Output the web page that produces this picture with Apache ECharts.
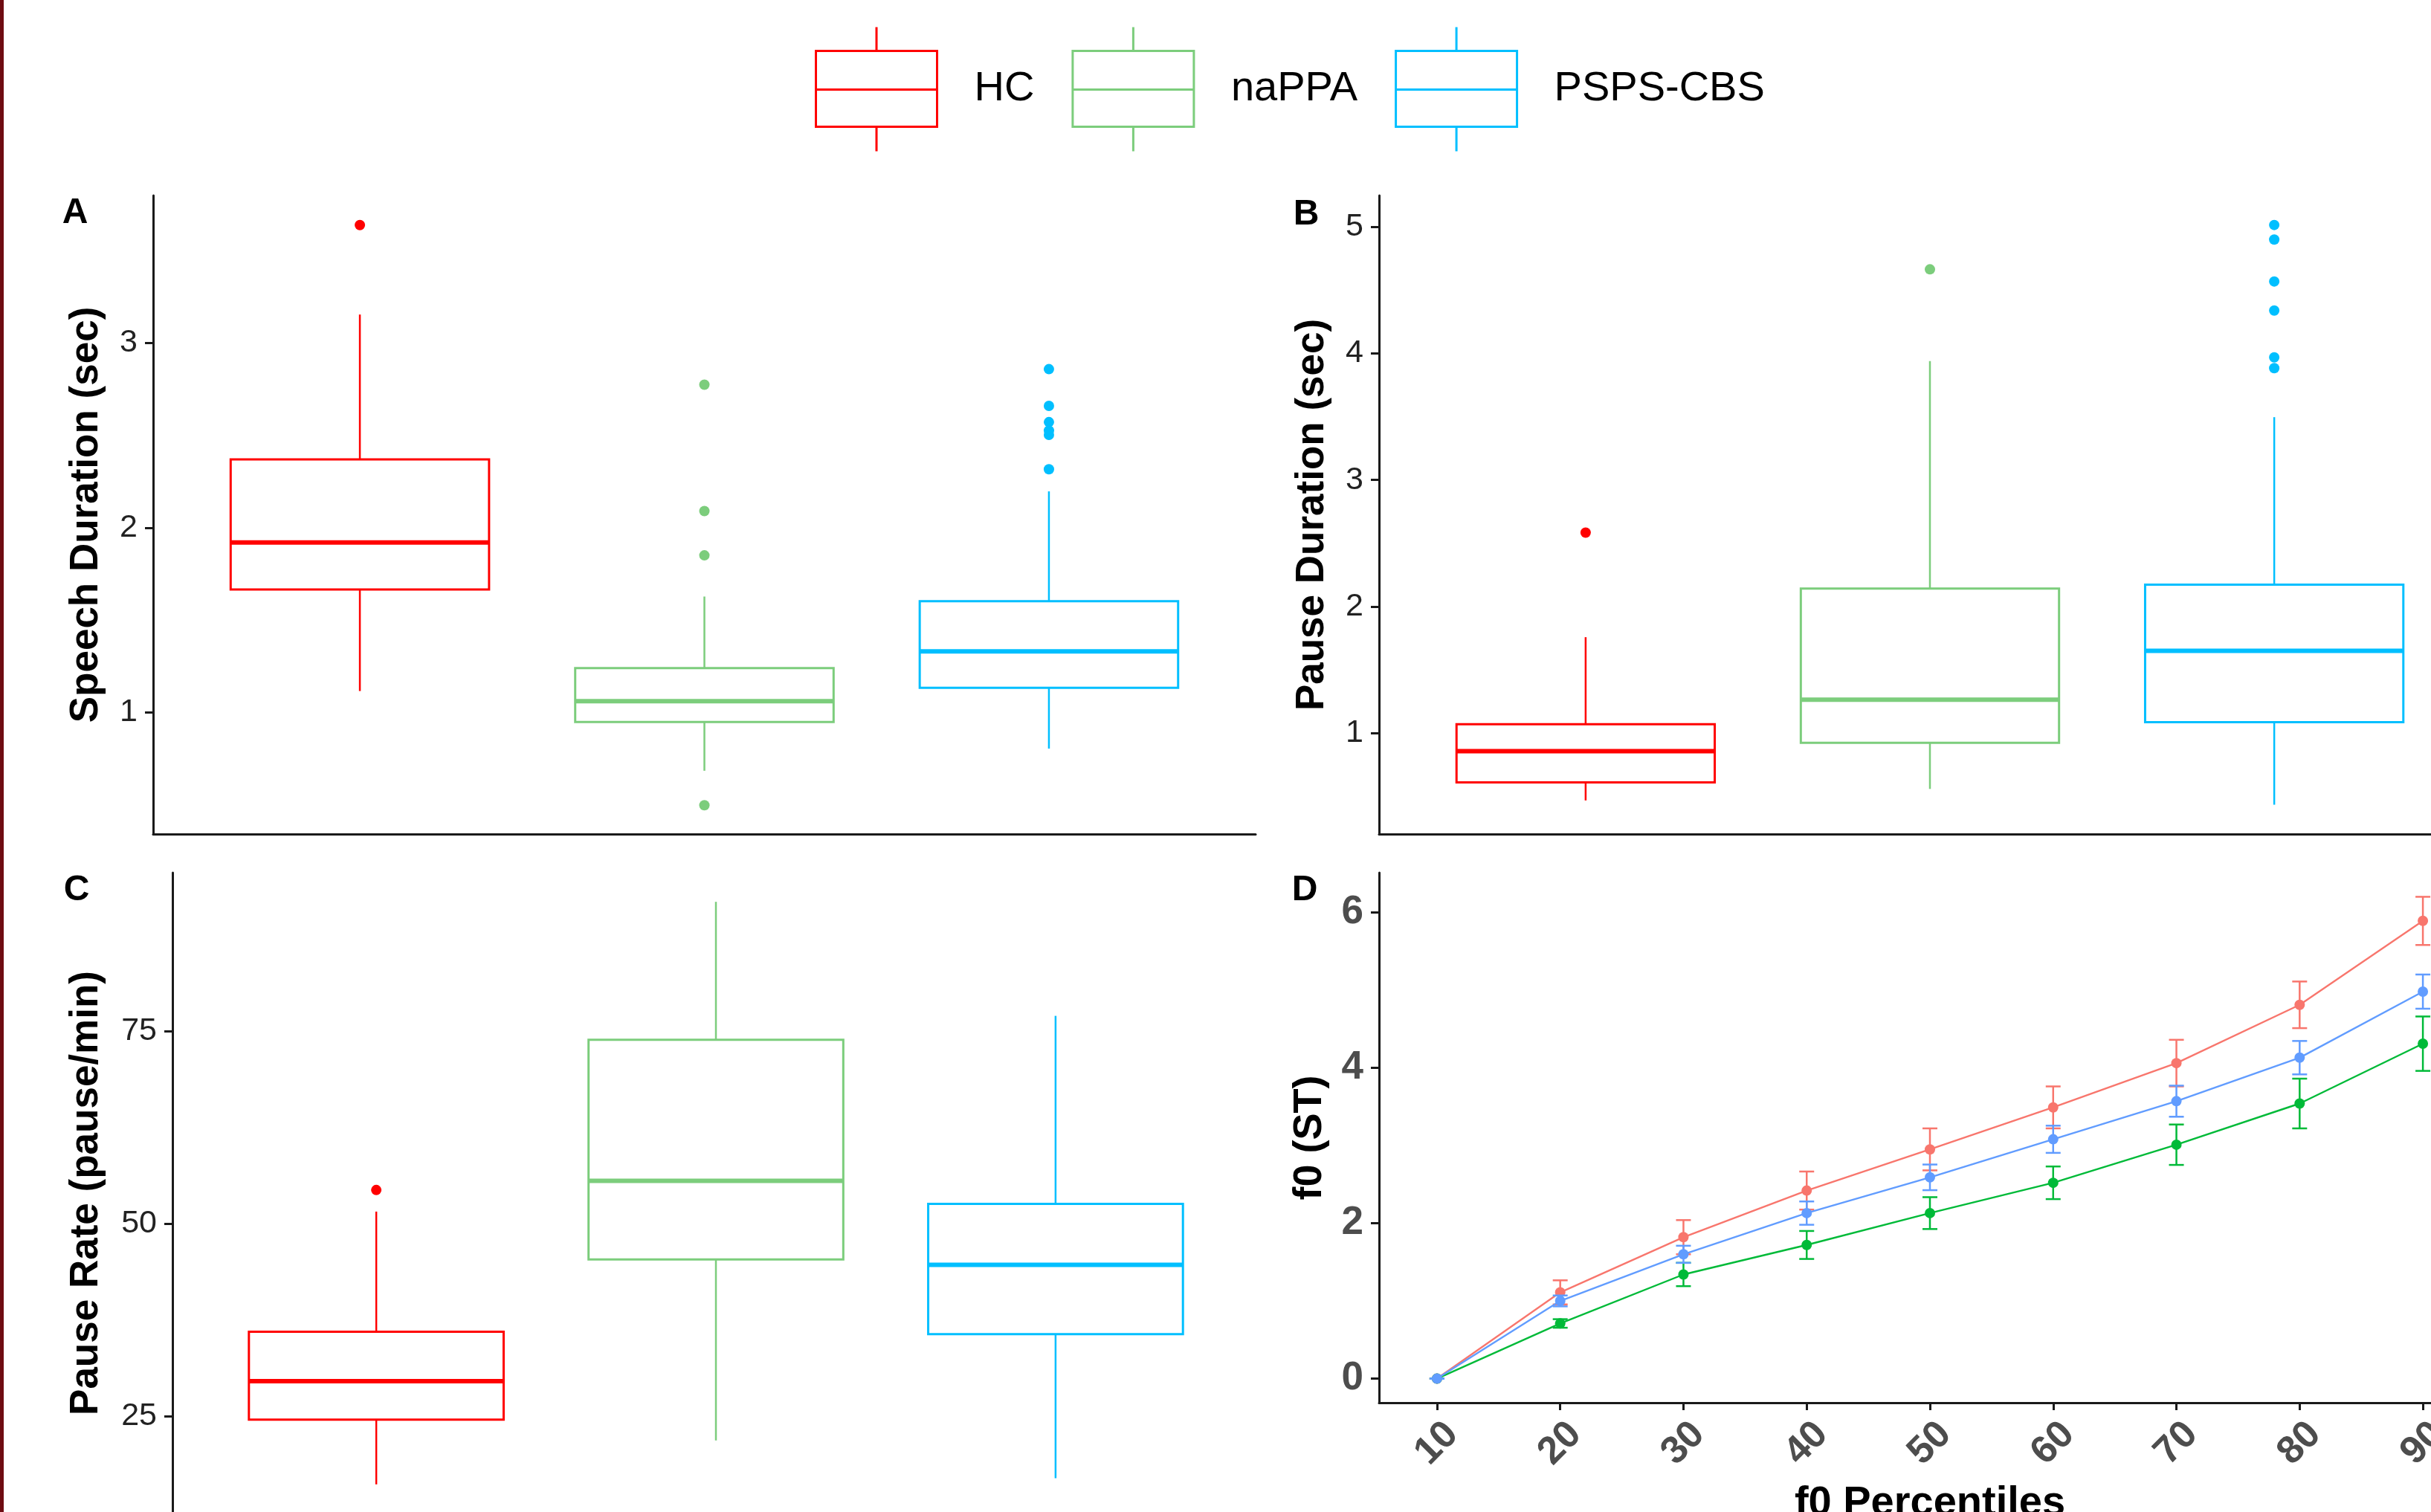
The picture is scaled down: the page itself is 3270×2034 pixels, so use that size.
<!DOCTYPE html>
<html><head><meta charset="utf-8">
<script src="https://cdn.jsdelivr.net/npm/echarts@6/dist/echarts.min.js"></script>
<style>html,body{margin:0;padding:0;background:#fff}#c{width:3270px;height:2034px}</style>
</head><body><div id="c"></div>
<script>
// ---------- data ----------
const groups = ['HC', 'naPPA', 'PSPS-CBS'];
// box stats: [lower whisker, Q1, median, Q3, upper whisker]
const speechBox = [[1.115, 1.665, 1.92, 2.37, 3.155], [0.683, 0.947, 1.06, 1.239, 1.627], [0.803, 1.132, 1.33, 1.602, 2.197]];
const speechOutliers = [[3.64], [2.775, 2.09, 1.85, 0.496], [2.859, 2.66, 2.572, 2.526, 2.503, 2.317]];
const pauseDurBox = [[0.466, 0.608, 0.855, 1.068, 1.757], [0.557, 0.922, 1.263, 2.142, 3.94], [0.432, 1.085, 1.649, 2.172, 3.497]];
const pauseDurOutliers = [[2.584], [4.666], [5.017, 4.902, 4.57, 4.34, 3.97, 3.885]];
const pauseRateBox = [[16.2, 24.6, 29.6, 36.0, 51.6], [21.9, 45.4, 55.6, 73.9, 91.8], [17.0, 35.7, 44.7, 52.6, 77.0]];
const pauseRateOutliers = [[54.4], [], []];
const percentiles = [10, 20, 30, 40, 50, 60, 70, 80, 90];
const f0HC = [0, 1.11, 1.82, 2.42, 2.95, 3.49, 4.06, 4.81, 5.89];
const f0naPPA = [0, 0.71, 1.34, 1.72, 2.13, 2.52, 3.01, 3.54, 4.31];
const f0PSPS = [0, 1.00, 1.60, 2.13, 2.59, 3.08, 3.57, 4.13, 4.98];
const seHC = [0, 0.155, 0.22, 0.245, 0.27, 0.27, 0.30, 0.30, 0.31];
const senaPPA = [0, 0.055, 0.15, 0.18, 0.205, 0.21, 0.26, 0.32, 0.35];
const sePSPS = [0, 0.07, 0.11, 0.15, 0.165, 0.175, 0.20, 0.215, 0.22];
const speechTicks = [1, 2, 3];
const pauseDurTicks = [1, 2, 3, 4, 5];
const pauseRateTicks = [25, 50, 75];
const f0Ticks = [0, 2, 4, 6];

// ---------- styles ----------
const FONT = '"Liberation Sans", Arial, sans-serif';
const boxColors = ['#FF0000', '#7CCD7C', '#00BFFF'];
const lineColors = ['#F8766D', '#00BA38', '#619CFF'];
const AXC = '#1a1a1a';

function boxRender(color) {
  return function (params, api) {
    const x = api.value(0);
    const lo = api.coord([x, api.value(1)]);
    const q1 = api.coord([x, api.value(2)]);
    const md = api.coord([x, api.value(3)]);
    const q3 = api.coord([x, api.value(4)]);
    const hi = api.coord([x, api.value(5)]);
    const hw = api.size([0.75, 0])[0] / 2;
    const cx = lo[0];
    return {
      type: 'group', children: [
        { type: 'line', shape: { x1: cx, y1: q3[1], x2: cx, y2: hi[1] }, style: { stroke: color, lineWidth: 2.5 } },
        { type: 'line', shape: { x1: cx, y1: q1[1], x2: cx, y2: lo[1] }, style: { stroke: color, lineWidth: 2.5 } },
        { type: 'rect', shape: { x: cx - hw, y: q3[1], width: 2 * hw, height: q1[1] - q3[1] }, style: { fill: '#fff', stroke: color, lineWidth: 3 } },
        { type: 'line', shape: { x1: cx - hw, y1: md[1], x2: cx + hw, y2: md[1] }, style: { stroke: color, lineWidth: 6 } }
      ]
    };
  };
}

function errRender(color) {
  return function (params, api) {
    const x = api.value(0), m = api.value(1), s = api.value(2);
    const top = api.coord([x, m + s]);
    const bot = api.coord([x, m - s]);
    const w = 10;
    const st = { stroke: color, lineWidth: 2.5 };
    return {
      type: 'group', children: [
        { type: 'line', shape: { x1: top[0], y1: top[1], x2: bot[0], y2: bot[1] }, style: st },
        { type: 'line', shape: { x1: top[0] - w, y1: top[1], x2: top[0] + w, y2: top[1] }, style: st },
        { type: 'line', shape: { x1: bot[0] - w, y1: bot[1], x2: bot[0] + w, y2: bot[1] }, style: st }
      ]
    };
  };
}

const grids = [
  { left: 206, top: 263, width: 1483, height: 859, outerBoundsMode: 'none', containLabel: false },
  { left: 1855, top: 263, width: 1482, height: 859, outerBoundsMode: 'none', containLabel: false },
  { left: 232, top: 1174, width: 1462, height: 862, outerBoundsMode: 'none', containLabel: false },
  { left: 1855, top: 1174, width: 1482, height: 713, outerBoundsMode: 'none', containLabel: false }
];

const axisLine = { show: true, onZero: false, lineStyle: { color: AXC, width: 3 } };

function boxXAxis(gi) {
  return { type: 'value', gridIndex: gi, min: 0.4, max: 3.6, axisLine: axisLine, axisTick: { show: false }, axisLabel: { show: false }, splitLine: { show: false } };
}
function boxYAxis(gi, min, max, ticks, name, gap) {
  return {
    type: 'value', gridIndex: gi, min: min, max: max,
    axisLine: axisLine,
    axisTick: { show: true, length: 11, lineStyle: { color: AXC, width: 3 }, customValues: ticks },
    axisLabel: { show: true, customValues: ticks, margin: 21, fontSize: 43, color: '#222', fontFamily: FONT },
    splitLine: { show: false },
    name: name, nameLocation: 'middle', nameGap: gap, nameRotate: 90,
    nameTextStyle: { fontSize: 53, fontWeight: 'bold', color: '#000', fontFamily: FONT }
  };
}

const xAxes = [boxXAxis(0), boxXAxis(1), boxXAxis(2), {
  type: 'value', gridIndex: 3, min: 5.3, max: 94.7,
  axisLine: axisLine,
  axisTick: { show: true, length: 10, lineStyle: { color: AXC, width: 3 }, customValues: percentiles },
  axisLabel: { show: true, customValues: percentiles, rotate: 45, align: 'center', verticalAlign: 'middle', margin: 55, fontSize: 52, fontWeight: 'bold', color: '#4D4D4D', fontFamily: FONT },
  splitLine: { show: false },
  name: 'f0 Percentiles', nameLocation: 'middle', nameGap: 108,
  nameTextStyle: { fontSize: 56, fontWeight: 'bold', color: '#000', fontFamily: FONT }
}];

const yAxes = [
  boxYAxis(0, 0.34, 3.80, speechTicks, 'Speech Duration (sec)', 63),
  boxYAxis(1, 0.2, 5.25, pauseDurTicks, 'Pause Duration (sec)', 63),
  boxYAxis(2, 12.42, 95.58, pauseRateTicks, 'Pause Rate (pause/min)', 89),
  {
    type: 'value', gridIndex: 3, min: -0.31, max: 6.51,
    axisLine: axisLine,
    axisTick: { show: true, length: 11, lineStyle: { color: AXC, width: 3 }, customValues: f0Ticks },
    axisLabel: { show: true, customValues: f0Ticks, margin: 21, fontSize: 53, fontWeight: 'bold', color: '#4D4D4D', fontFamily: FONT },
    splitLine: { show: false },
    name: 'f0 (ST)', nameLocation: 'middle', nameGap: 66, nameRotate: 90,
    nameTextStyle: { fontSize: 54, fontWeight: 'bold', color: '#000', fontFamily: FONT }
  }
];

const series = [];
const boxPanels = [[speechBox, speechOutliers], [pauseDurBox, pauseDurOutliers], [pauseRateBox, pauseRateOutliers]];
boxPanels.forEach(function (panel, pi) {
  groups.forEach(function (g, i) {
    series.push({
      type: 'custom', name: g, xAxisIndex: pi, yAxisIndex: pi, clip: false,
      renderItem: boxRender(boxColors[i]),
      encode: { x: 0, y: [1, 2, 3, 4, 5] },
      itemStyle: { color: boxColors[i] },
      data: [[i + 1].concat(panel[0][i])],
      silent: true
    });
    series.push({
      type: 'scatter', name: g, xAxisIndex: pi, yAxisIndex: pi,
      symbol: 'circle', symbolSize: 14, itemStyle: { color: boxColors[i], opacity: 1 },
      data: panel[1][i].map(function (v) { return [i + 1, v]; }),
      silent: true, z: 3
    });
  });
});

const f0Means = [f0HC, f0naPPA, f0PSPS];
const f0Ses = [seHC, senaPPA, sePSPS];
groups.forEach(function (g, i) {
  series.push({
    type: 'custom', name: g, xAxisIndex: 3, yAxisIndex: 3, clip: false,
    renderItem: errRender(lineColors[i]),
    encode: { x: 0, y: 1 },
    itemStyle: { color: lineColors[i] },
    data: percentiles.map(function (p, j) { return [p, f0Means[i][j], f0Ses[i][j]]; }),
    silent: true, z: 2 + i
  });
  series.push({
    type: 'line', name: g, xAxisIndex: 3, yAxisIndex: 3,
    symbol: 'circle', symbolSize: 14, showSymbol: true,
    lineStyle: { color: lineColors[i], width: 2.4 },
    itemStyle: { color: lineColors[i] },
    data: percentiles.map(function (p, j) { return [p, f0Means[i][j]]; }),
    silent: true, z: 2 + i, animation: false
  });
});

const legendIcon = 'path://M81.5,0L81.5,32M0,32L163,32L163,134L0,134ZM0,84L163,84M81.5,134L81.5,167';

function panelLabel(t, x, y) {
  return { type: 'text', x: x, y: y, style: { text: t, font: 'bold 48px ' + FONT, fill: '#000', align: 'center', verticalAlign: 'middle' } };
}

const option = {
  animation: false,
  backgroundColor: '#fff',
  grid: grids,
  xAxis: xAxes,
  yAxis: yAxes,
  legend: {
    left: 1091, top: 30, itemWidth: 163, itemHeight: 167, itemGap: 50, selectedMode: false,
    textStyle: { fontSize: 56, color: '#000', fontFamily: FONT, padding: [12, 0, 0, 45] },
    data: groups.map(function (g, i) {
      return { name: g, icon: legendIcon, itemStyle: { color: 'rgba(0,0,0,0)', borderColor: boxColors[i], borderWidth: 3 } };
    })
  },
  graphic: [
    { type: 'rect', shape: { x: 0, y: 0, width: 5, height: 2034 }, style: { fill: '#6E0C12' } },
    panelLabel('A', 101, 287),
    panelLabel('B', 1757, 289),
    panelLabel('C', 103, 1198),
    panelLabel('D', 1755, 1198)
  ],
  series: series
};

const chart = echarts.init(document.getElementById('c'), null, { renderer: 'canvas' });
chart.setOption(option);
</script>
</body></html>
